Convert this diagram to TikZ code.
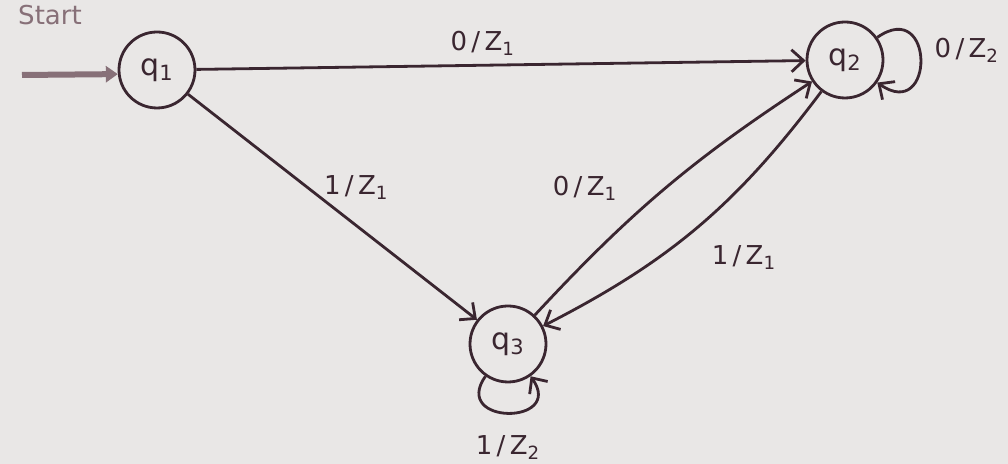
\documentclass[tikz,border=0pt]{standalone}
\usepackage{fontspec}
\setmainfont{DejaVu Sans}
\usetikzlibrary{arrows.meta,positioning}
\definecolor{ink}{RGB}{58,38,48}
\definecolor{paper}{RGB}{233,231,230}
\definecolor{startgray}{RGB}{135,112,120}

\begin{document}
\begin{tikzpicture}[x=0.5pt, y=0.5pt, line width=1.4pt, ink,
  st/.style={circle, draw=ink, minimum size=38pt, inner sep=0pt, font=\fontsize{15}{15}\selectfont},
  lab/.style={font=\fontsize{13}{13}\selectfont, text=ink},
  arr/.style={-{Straight Barb[length=6pt,width=11pt]}}]
 \useasboundingbox (0,0) rectangle (1008,464);
 \fill[paper] (0,0) rectangle (1008,464);
 \node[st] (q1) at (157,394) {q\textsubscript{1}};
 \node[st] (q2) at (845,404) {q\textsubscript{2}};
 \node[st] (q3) at (508,120) {q\textsubscript{3}};
 \node[startgray, font=\fontsize{13}{13}\selectfont] (start) at (50,449) {Start};
 \coordinate (s0) at (22,389);
 \draw[-{Triangle[length=6pt,width=8pt]}, startgray, line width=3pt] (s0) -- (q1.186);
 \draw[arr] (q1) -- node[lab, above=1pt, pos=0.47] {0\,/\,Z\textsubscript{1}} (q2);
 \draw[arr] (q1) -- node[lab, pos=0.45, above right, xshift=-1pt, yshift=-6pt] {1\,/\,Z\textsubscript{1}} (q3);
 \draw[arr] (q3) to[bend left=7] node[lab, pos=0.5, xshift=-40pt] {0\,/\,Z\textsubscript{1}} (q2);
 \draw[arr] (q2) to[bend left=13] node[lab, pos=0.5, below right, xshift=3pt, yshift=-5pt] {1\,/\,Z\textsubscript{1}} (q3);
 \draw[arr] (q2) to[out=35, in=-35, looseness=4] node[lab, right, xshift=3pt, yshift=5pt] {0\,/\,Z\textsubscript{2}} (q2);
 \draw[arr] (q3) to[out=235, in=305, looseness=3.4] node[lab, below=7pt] {1\,/\,Z\textsubscript{2}} (q3);
\end{tikzpicture}
\end{document}
